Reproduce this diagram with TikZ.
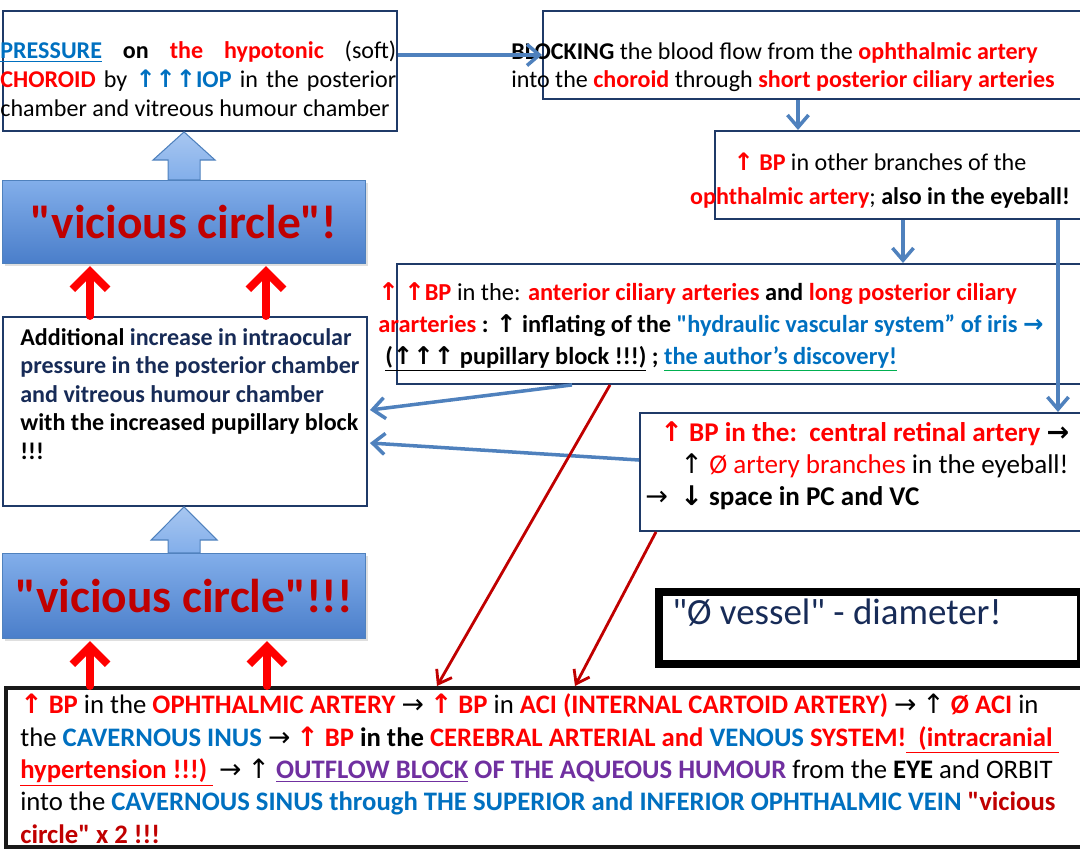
\documentclass[tikz,border=0pt]{standalone}
\usepackage{fontspec}
\setmainfont{Carlito}[Ligatures=TeXOff]
\newfontfamily\arrfont{DejaVu Sans}
\usepackage{tikz}
\usetikzlibrary{calc,arrows.meta,shadows}

\definecolor{boxnavy}{HTML}{1F3A68}
\definecolor{navytxt}{HTML}{172B57}
\definecolor{steel}{HTML}{4F81BD}
\definecolor{hired}{HTML}{FF0000}
\definecolor{darkred}{HTML}{C00000}
\definecolor{txtblue}{HTML}{0070C0}
\definecolor{purp}{HTML}{7030A0}
\definecolor{ulgreen}{HTML}{00B050}
\definecolor{vctop}{HTML}{82AEEA}
\definecolor{vcbot}{HTML}{4A7ECA}

\newcommand{\upa}{{\arrfont ↑}}
\newcommand{\rta}{{\arrfont →}}
\newcommand{\dna}{{\arrfont ↓}}
\newcommand{\rb}[1]{\textcolor{hired}{\textbf{#1}}}
\newcommand{\bb}[1]{\textcolor{txtblue}{\textbf{#1}}}
\newcommand{\px}{0.02cm}

\tikzset{box/.style={draw=boxnavy,line width=1.1pt,anchor=north west,inner sep=0pt},
  txt/.style={anchor=base west,inner sep=0pt,align=left},
  vcbox/.style={box,draw=steel,line width=0.6pt,top color=vctop,bottom color=vcbot,
    drop shadow={opacity=0.25,shadow xshift=1.5pt,shadow yshift=-1.5pt},
    text=darkred,font=\fontsize{27}{30}\selectfont\bfseries},
  blockup/.style={draw=steel,line width=0.6pt,top color=vctop!70!white,bottom color=vctop},
  barrow/.style={draw=steel,line width=2pt,-{Straight Barb[length=7pt,width=12pt]}},
  rarrow/.style={draw=hired,line width=4.5pt,line cap=round,-{Straight Barb[length=10pt,width=20pt]}},
  darrow/.style={draw=darkred,line width=1.6pt,-{Straight Barb[length=7pt,width=10pt]}}}

\begin{document}
\begin{tikzpicture}[x=0.02cm,y=-0.02cm]
\useasboundingbox (0,0) rectangle (1080,849);

\node[box,minimum width=394*\px,minimum height=120*\px] (press) at (2,10) {};
\node[box,minimum width=543*\px,minimum height=88*\px] (block) at (542,10) {};
\node[box,minimum width=371*\px,minimum height=88*\px] (branch) at (714,130) {};
\node[box,minimum width=689*\px,minimum height=120*\px] (cil) at (396,263) {};
\node[box,minimum width=364*\px,minimum height=189*\px] (add) at (2,316) {};
\node[box,minimum width=446*\px,minimum height=118*\px] (ret) at (639,412) {};
\node[vcbox,minimum width=363*\px,minimum height=83*\px] (vc1) at (2,180) {"vicious circle"!};
\node[vcbox,minimum width=363*\px,minimum height=85*\px] (vc2) at (2,553) {"vicious circle"!!!};
\node[box,draw=black,line width=4.5pt,minimum width=422*\px,minimum height=72*\px] (diam) at (655,588) {};
\node[box,draw=black!90,line width=2.3pt,minimum width=1081*\px,minimum height=159*\px] (bottom) at (4,686) {};

\node[txt,font=\fontsize{13.7}{16.4}\selectfont] (presst) at (0,116)
  {\makebox[7.92cm][s]{\textcolor{txtblue}{\underline{\textbf{PRESSURE}}} \textbf{on} \rb{the hypotonic} (soft)}\\
   \makebox[7.92cm][s]{\rb{CHOROID} by \textcolor{txtblue}{\textbf{\upa\upa\upa IOP}} in the posterior}\\
   chamber and vitreous humour chamber};
\node[txt,font=\fontsize{13.7}{15.9}\selectfont] (blockt) at (511,87)
  {\textbf{BLOCKING} the blood flow from the \rb{ophthalmic artery}\\
   into the \rb{choroid} through \rb{short posterior ciliary arteries}};
\node[txt,anchor=base,align=center,font=\fontsize{13.7}{19.3}\selectfont] (brancht) at (880,204)
  {\rb{\upa\ BP} in other branches of the\\
   \rb{ophthalmic artery}; \textbf{also in the eyeball!}};
\node[txt,font=\fontsize{13.9}{18.1}\selectfont] (cilt) at (378,364)
  {\rb{\upa\ \upa BP} in the: \rb{anterior ciliary arteries} \textbf{and} \rb{long posterior ciliary}\\
   \rb{ararteries} \textbf{: \upa\ inflating of the} \bb{"hydraulic vascular system” of iris \rta}\\
   \hspace*{4pt}\textbf{\underline{(\upa\upa\upa\ pupillary block !!!)} ; }\textcolor{ulgreen}{\underline{\bb{the author’s discovery!}}}};
\node[txt,font=\fontsize{13.7}{16.2}\selectfont\bfseries] (addt) at (20,459)
  {Additional \textcolor{navytxt}{increase in intraocular}\\
   \textcolor{navytxt}{pressure in the posterior chamber}\\
   \textcolor{navytxt}{and vitreous humour chamber}\\
   with the increased pupillary block\\
   !!!};
\node[txt,font=\fontsize{15.4}{18.1}\selectfont] (rett) at (645,505)
  {\hspace*{8.5pt}\rb{\upa\ BP in the:\ \ central retinal artery} \textbf{\rta}\\
   \hspace*{20pt}\upa\ \textcolor{hired}{Ø artery branches} in the eyeball!\\
   \rta\ \ \textbf{\dna\ space in PC and VC}};
\node[txt,font=\fontsize{21}{24}\selectfont,text=navytxt] (diamt) at (672,624)
  {"Ø vessel" - diameter!};
\node[txt,font=\fontsize{15.2}{18.4}\selectfont] (bottomt) at (20,843)
  {\rb{\upa\ BP} in the \rb{OPHTHALMIC ARTERY} \rta\ \rb{\upa\ BP} in \rb{ACI (INTERNAL CARTOID ARTERY)} \rta\ \upa\ \rb{Ø ACI} in\\
   the \bb{CAVERNOUS INUS} \rta\ \rb{\upa\ BP} \textbf{in the} \rb{CEREBRAL ARTERIAL and} \bb{VENOUS} \rb{SYSTEM!}\textcolor{hired}{\underline{\textbf{\ \ (intracranial\ }}}\\
   \textcolor{hired}{\underline{\textbf{hypertension !!!)\ }}} \rta\ \upa\ \textcolor{purp}{\underline{\textbf{OUTFLOW BLOCK}}} \textcolor{purp}{\textbf{OF THE AQUEOUS HUMOUR}} from the \textbf{EYE} and ORBIT\\
   into the \bb{CAVERNOUS SINUS through THE SUPERIOR and INFERIOR OPHTHALMIC VEIN} \textcolor{darkred}{\textbf{"vicious}}\\
   \textcolor{darkred}{\textbf{circle" x 2 !!!}}};

\shade[blockup] ($(vc1.north)+(-16,0)$) -- ($(vc1.north)+(-16,-20)$) -- ($(vc1.north)+(-31,-20)$)
  -- (vc1.north |- press.south) -- ($(vc1.north)+(31,-20)$) -- ($(vc1.north)+(16,-20)$) -- ($(vc1.north)+(16,0)$) -- cycle;
\shade[blockup] ($(vc2.north)+(-16,0)$) -- ($(vc2.north)+(-16,-13)$) -- ($(vc2.north)+(-33,-13)$)
  -- (vc2.north |- add.south) -- ($(vc2.north)+(33,-13)$) -- ($(vc2.north)+(16,-13)$) -- ($(vc2.north)+(16,0)$) -- cycle;

\draw[barrow] (press.east |- block.west) -- (block.west);
\draw[barrow] ($(block.south west)+(256,0)$) -- ($(branch.north west)+(84,0)$);
\draw[barrow] ($(branch.south west)+(189,0)$) -- ($(cil.north west)+(507,0)$);
\draw[barrow] ($(branch.south west)+(344,0)$) -- ($(ret.north west)+(419,0)$);
\draw[barrow] ($(cil.south west)+(176,0)$) -- ($(add.north east)+(2,94)$);
\draw[barrow] ($(ret.north west)+(0,48)$) -- ($(add.north east)+(2,127)$);

\draw[darrow] ($(cil.south west)+(214,0)$) -- ($(bottom.north west)+(433,0)$);
\draw[darrow] ($(ret.south west)+(17,0)$) -- ($(bottom.north west)+(571,0)$);

\draw[rarrow] ($(add.north west)+(88,0)$) -- ($(vc1.south west)+(88,2)$);
\draw[rarrow] ($(add.north west)+(264,0)$) -- ($(vc1.south west)+(264,2)$);
\draw[rarrow] ($(bottom.north west)+(86,0)$) -- ($(vc2.south west)+(88,2)$);
\draw[rarrow] ($(bottom.north west)+(263,0)$) -- ($(vc2.south west)+(265,2)$);
\end{tikzpicture}
\end{document}
